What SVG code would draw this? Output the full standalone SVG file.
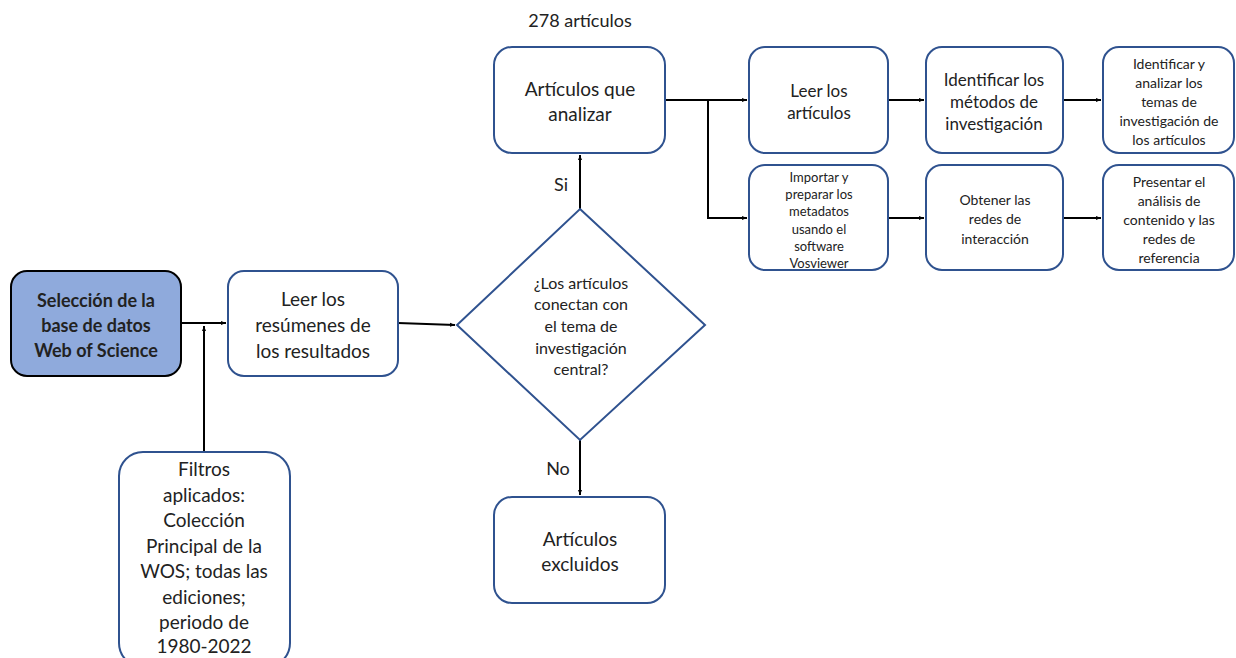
<svg xmlns="http://www.w3.org/2000/svg" width="1236" height="658" viewBox="0 0 1236 658">
<defs>
<marker id="arr" viewBox="0 0 10 10" refX="10" refY="5" markerWidth="5" markerHeight="5" orient="auto" markerUnits="userSpaceOnUse">
<path d="M0,1 L10,5 L0,9 z" fill="#000"/>
</marker>
<style>
.box{fill:#fff;stroke:#2F528F;stroke-width:2}
.t{font-family:Lato,"Liberation Sans",sans-serif;fill:#222;text-anchor:middle;dominant-baseline:central}
.c{fill:none;stroke:#000;stroke-width:2}
</style>
</defs>
<rect width="1236" height="658" fill="#fff"/>
<g id="connectors">
<line class="c" x1="181" y1="323" x2="226" y2="323" marker-end="url(#arr)"/>
<line class="c" x1="204" y1="451" x2="204" y2="326" marker-end="url(#arr)"/>
<line class="c" x1="398" y1="323" x2="455" y2="325" marker-end="url(#arr)"/>
<line class="c" x1="580" y1="209" x2="580" y2="155" marker-end="url(#arr)"/>
<line class="c" x1="580" y1="440" x2="580" y2="495" marker-end="url(#arr)"/>
<line class="c" x1="665" y1="100" x2="747" y2="100" marker-end="url(#arr)"/>
<polyline class="c" points="708,100 708,218 747,218" marker-end="url(#arr)"/>
<line class="c" x1="888" y1="100" x2="924" y2="100" marker-end="url(#arr)"/>
<line class="c" x1="888" y1="218" x2="924" y2="218" marker-end="url(#arr)"/>
<line class="c" x1="1063" y1="100" x2="1101" y2="100" marker-end="url(#arr)"/>
<line class="c" x1="1063" y1="218" x2="1101" y2="218" marker-end="url(#arr)"/>
<text class="t" x="561" y="184" font-size="18">Si</text>
<text class="t" x="558" y="468" font-size="18">No</text>
</g>
<g id="label278"><text class="t" x="580" y="20" font-size="18">278 artículos</text></g>
<g id="n_seleccion">
<rect x="11" y="271" width="170" height="105" rx="16" fill="#8FAADC" stroke="#000" stroke-width="2"/>
<text class="t" font-size="18" font-weight="bold" fill="#000"><tspan x="96" y="300">Selección de la</tspan><tspan x="96" y="325">base de datos</tspan><tspan x="96" y="350">Web of Science</tspan></text>
</g>
<g id="n_resumenes">
<rect class="box" x="228" y="271" width="170" height="105" rx="16"/>
<text class="t" font-size="19"><tspan x="313" y="298">Leer los</tspan><tspan x="313" y="324">resúmenes de</tspan><tspan x="313" y="350">los resultados</tspan></text>
</g>
<g id="n_filtros">
<rect class="box" x="119" y="452" width="171" height="215" rx="24"/>
<text class="t" font-size="19"><tspan x="204" y="468">Filtros</tspan><tspan x="204" y="494">aplicados:</tspan><tspan x="204" y="519">Colección</tspan><tspan x="204" y="545">Principal de la</tspan><tspan x="204" y="570">WOS; todas las</tspan><tspan x="204" y="596">ediciones;</tspan><tspan x="204" y="621">periodo de</tspan><tspan x="204" y="645">1980-2022</tspan></text>
</g>
<g id="n_decision">
<polygon class="box" points="580,209 705,325 580,440 457,325"/>
<text class="t" font-size="16"><tspan x="581" y="282">¿Los artículos</tspan><tspan x="581" y="303">conectan con</tspan><tspan x="581" y="325">el tema de</tspan><tspan x="581" y="347">investigación</tspan><tspan x="581" y="368">central?</tspan></text>
</g>
<g id="n_analizar">
<rect class="box" x="494" y="47" width="171" height="106" rx="18"/>
<text class="t" font-size="19"><tspan x="580" y="88">Artículos que</tspan><tspan x="580" y="113">analizar</tspan></text>
</g>
<g id="n_excluidos">
<rect class="box" x="494" y="497" width="171" height="106" rx="18"/>
<text class="t" font-size="19"><tspan x="580" y="538">Artículos</tspan><tspan x="580" y="563">excluidos</tspan></text>
</g>
<g id="n_leer_art">
<rect class="box" x="749" y="47" width="139" height="106" rx="16"/>
<text class="t" font-size="17"><tspan x="819" y="90">Leer los</tspan><tspan x="819" y="112">artículos</tspan></text>
</g>
<g id="n_metodos">
<rect class="box" x="926" y="47" width="137" height="106" rx="16"/>
<text class="t" font-size="17"><tspan x="994" y="79">Identificar los</tspan><tspan x="994" y="101">métodos de</tspan><tspan x="994" y="123">investigación</tspan></text>
</g>
<g id="n_temas">
<rect class="box" x="1103" y="47" width="131" height="106" rx="16"/>
<text class="t" font-size="14"><tspan x="1169" y="63">Identificar y</tspan><tspan x="1169" y="82">analizar los</tspan><tspan x="1169" y="101">temas de</tspan><tspan x="1169" y="120">investigación de</tspan><tspan x="1169" y="139">los artículos</tspan></text>
</g>
<g id="n_importar">
<rect class="box" x="749" y="165" width="139" height="105" rx="16"/>
<text class="t" font-size="13"><tspan x="819" y="177">Importar y</tspan><tspan x="819" y="194">preparar los</tspan><tspan x="819" y="211">metadatos</tspan><tspan x="819" y="229">usando el</tspan><tspan x="819" y="246">software</tspan><tspan x="819" y="263">Vosviewer</tspan></text>
</g>
<g id="n_redes">
<rect class="box" x="926" y="165" width="137" height="105" rx="16"/>
<text class="t" font-size="14"><tspan x="995" y="199">Obtener las</tspan><tspan x="995" y="218">redes de</tspan><tspan x="995" y="238">interacción</tspan></text>
</g>
<g id="n_presentar">
<rect class="box" x="1103" y="165" width="131" height="105" rx="16"/>
<text class="t" font-size="14"><tspan x="1169" y="181">Presentar el</tspan><tspan x="1169" y="200">análisis de</tspan><tspan x="1169" y="219">contenido y las</tspan><tspan x="1169" y="238">redes de</tspan><tspan x="1169" y="257">referencia</tspan></text>
</g>
</svg>
